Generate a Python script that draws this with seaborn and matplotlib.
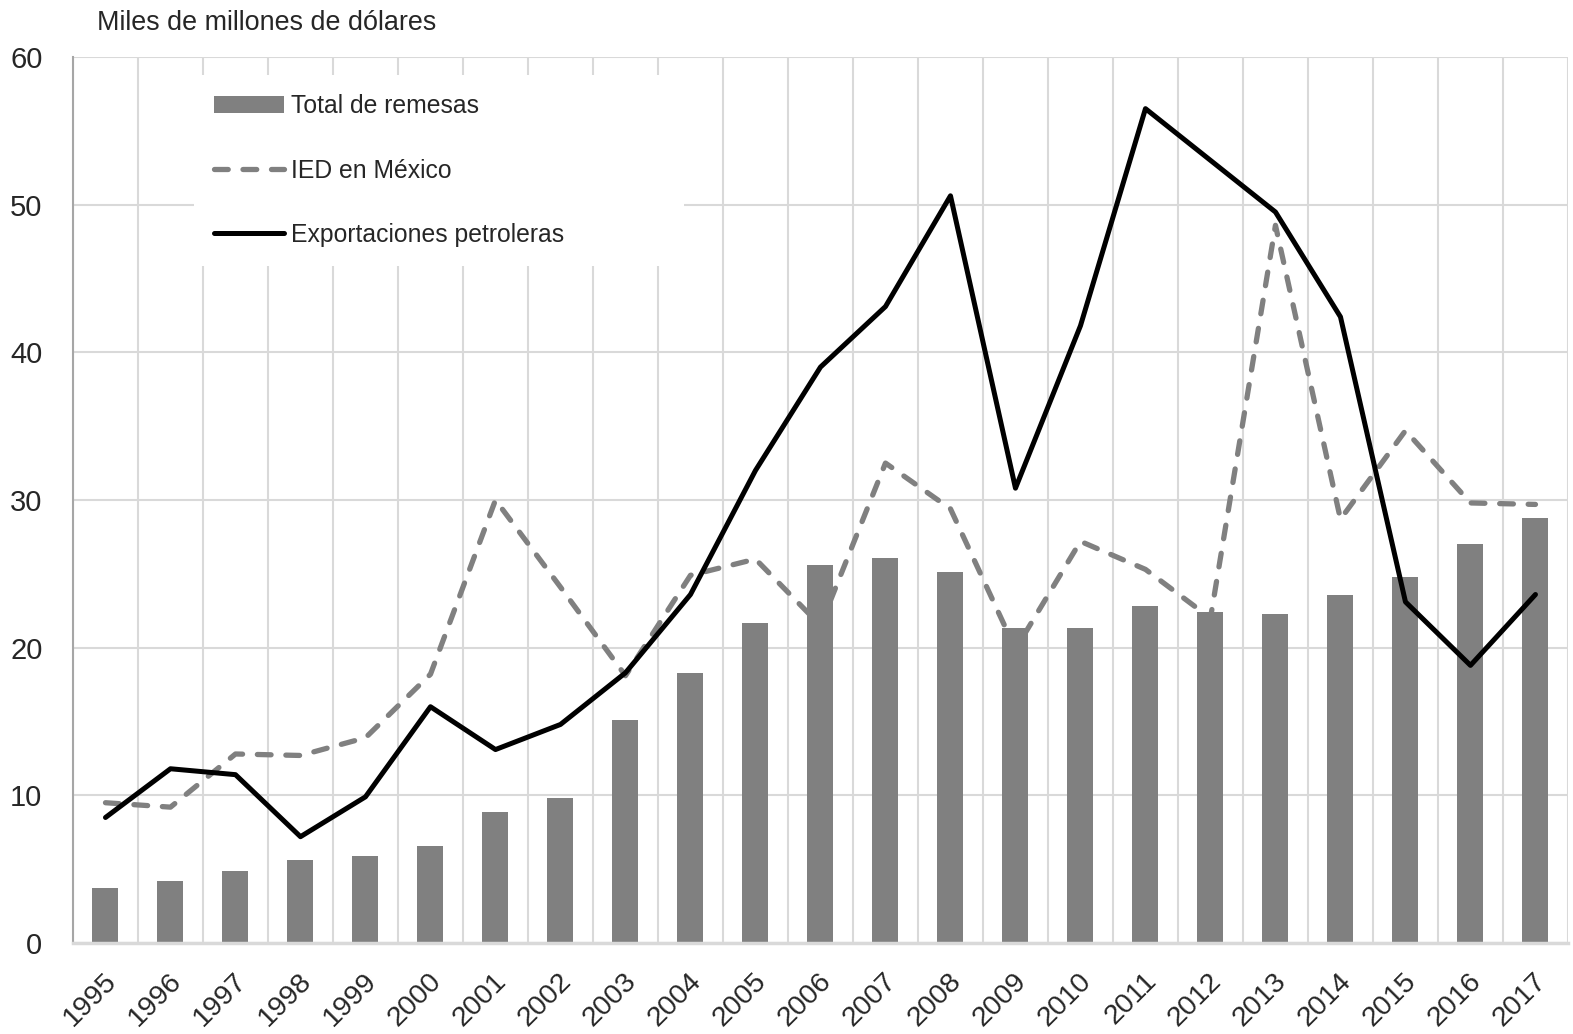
import numpy as np
import pandas as pd
import seaborn as sns
import matplotlib.pyplot as plt
import matplotlib.transforms as mtransforms

anios = [str(a) for a in range(1995, 2018)]
remesas = [3.7, 4.2, 4.9, 5.6, 5.9, 6.6, 8.9, 9.8, 15.1, 18.3, 21.7, 25.6,
           26.1, 25.1, 21.3, 21.3, 22.8, 22.4, 22.3, 23.6, 24.8, 27.0, 28.8]
ied = [9.5, 9.2, 12.8, 12.7, 13.9, 18.2, 30.0, 24.1, 18.1, 24.9, 26.0, 21.5,
       32.5, 29.4, 19.9, 27.2, 25.3, 22.0, 48.6, 28.7, 34.7, 29.8, 29.7]
petroleras = [8.5, 11.8, 11.4, 7.2, 9.9, 16.0, 13.1, 14.8, 18.3, 23.6, 32.0, 39.0,
              43.1, 50.6, 30.8, 41.8, 56.5, 53.0, 49.5, 42.4, 23.1, 18.8, 23.6]

sns.set_style('white')
plt.rcParams['font.family'] = ['Liberation Sans', 'DejaVu Sans']

datos = pd.DataFrame({'Anio': anios, 'Remesas': remesas, 'IED': ied,
                      'Petroleras': petroleras})

fig = plt.figure(figsize=(15.73, 10.34), dpi=100)
ax = fig.add_axes([0.0464, 0.088, 0.9504, 0.8569])
ax.set_axisbelow(True)

sns.barplot(data=datos, x='Anio', y='Remesas', color='#808080', width=0.4,
            saturation=1, linewidth=0, label='Total de remesas', ax=ax)
sns.lineplot(data=datos, x='Anio', y='IED', color='#808080', lw=3.8,
             ls=(0, (2.6, 2.8)), dash_capstyle='round',
             label='IED en México', ax=ax)
sns.lineplot(data=datos, x='Anio', y='Petroleras', color='black', lw=3.6,
             label='Exportaciones petroleras', ax=ax)

# ejes
ax.set_ylim(0, 60)
ax.set_yticks(range(0, 61, 10))
ax.set_xlim(-0.5, len(anios) - 0.5)
ax.set_xticks(np.arange(-0.5, len(anios), 1), minor=True)
ax.set_xlabel('')
ax.set_ylabel('')
ax.yaxis.grid(True, which='major', color='#d9d9d9', lw=1.5)
ax.xaxis.grid(True, which='minor', color='#d9d9d9', lw=1.5)
ax.xaxis.grid(False, which='major')

ax.tick_params(axis='x', which='major', direction='in', length=6, width=1.5,
               color='#bfbfbf', labelsize=20.5, pad=18)
ax.tick_params(axis='x', which='minor', direction='out', length=10, width=1.5,
               color='#d9d9d9')
ax.tick_params(axis='y', direction='out', length=8, width=1.5,
               color='#a6a6a6', labelsize=21, pad=14)
desplaza = mtransforms.ScaledTranslation(-2 / 100, 0, fig.dpi_scale_trans)
for lab in ax.get_xticklabels():
    lab.set_rotation(45)
    lab.set_ha('right')
    lab.set_va('top')
    lab.set_rotation_mode('anchor')
    lab.set_transform(lab.get_transform() + desplaza)

for lado in ['top', 'right']:
    ax.spines[lado].set_visible(False)
ax.spines['left'].set_color('#a6a6a6')
ax.spines['left'].set_linewidth(1.5)
ax.spines['bottom'].set_color('#d9d9d9')
ax.spines['bottom'].set_linewidth(2.5)

# leyenda
handles, labels = ax.get_legend_handles_labels()
orden = ['Total de remesas', 'IED en México', 'Exportaciones petroleras']
h = [handles[labels.index(l)] for l in orden]
ax.legend(h, orden, loc='upper left', bbox_to_anchor=(0.081, 0.980, 0.328, 0),
          mode='expand', frameon=True, facecolor='white', edgecolor='none',
          framealpha=1, fontsize=17.8, handlelength=2.85, handletextpad=0.28,
          labelspacing=1.62, borderpad=0.8, borderaxespad=0)

fig.text(97 / 1573, 1 - 23 / 1034, 'Miles de millones de dólares',
         fontsize=19.4, ha='left', va='center')

fig.savefig('out.png', dpi=100)
